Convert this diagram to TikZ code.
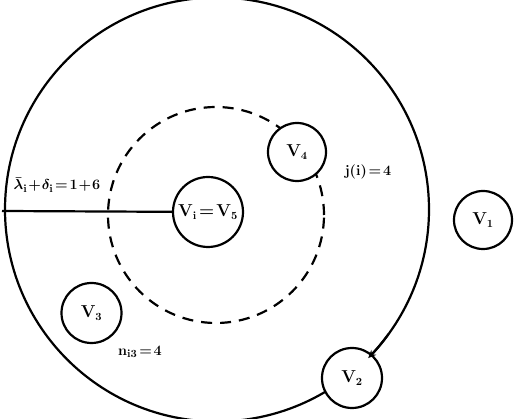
\documentclass[tikz,border=0pt]{standalone}
\usetikzlibrary{arrows.meta}
\begin{document}
\begin{tikzpicture}[x=1pt,y=1pt,
  vert/.style={circle,draw,line width=2.2pt,fill=white,minimum size=60pt,inner sep=0pt,font=\fontsize{16}{18}\selectfont\boldmath},
  lbl/.style={font=\fontsize{15}{17}\selectfont\boldmath,inner sep=0pt},
  ln/.style={line width=2.2pt}]
\useasboundingbox (0,0) rectangle (515,-419);
% outer circle
\node[circle,draw,line width=2.2pt,minimum size=424pt,inner sep=0pt] (big) at (217,-209.5) {};
% dashed circle
\node[circle,draw,line width=2.2pt,dash pattern=on 11pt off 8pt,minimum size=216pt,inner sep=0pt] (dash) at (216,-215) {};
% radius line
\coordinate (L) at (2,-211);
\node[vert,minimum size=70pt] (v5) at (208,-212) {$\mathbf{V_i\!=\!V_5}$};
\draw[ln] (L) -- (v5);
% vertices
\node[vert,minimum size=58pt] (v4) at (297,-152) {$\mathbf{V_4}$};
\node[vert] (v3) at (91.5,-313) {$\mathbf{V_3}$};
\node[vert] (v2) at (352,-378) {$\mathbf{V_2}$};
\node[vert,minimum size=58pt] (v1) at (483,-220) {$\mathbf{V_1}$};
% arrow into V2 along outer circle
\draw[ln,-{Stealth[length=8pt,width=7pt]}] (big.center) ++(-36:212) arc[start angle=-36,end angle=-44.5,radius=212pt];
% labels
\node[lbl] (lam) at (57,-185) {$\bar{\lambda}_{\mathbf{i}}\!+\!\delta_{\mathbf{i}}\!=\!\mathbf{1\!+\!6}$};
\node[lbl] (ji) at (368,-172) {$\mathbf{j(i)\!=\!4}$};
\node[lbl] (ni) at (140,-352) {$\mathbf{n_{i3}\!=\!4}$};
\end{tikzpicture}
\end{document}
